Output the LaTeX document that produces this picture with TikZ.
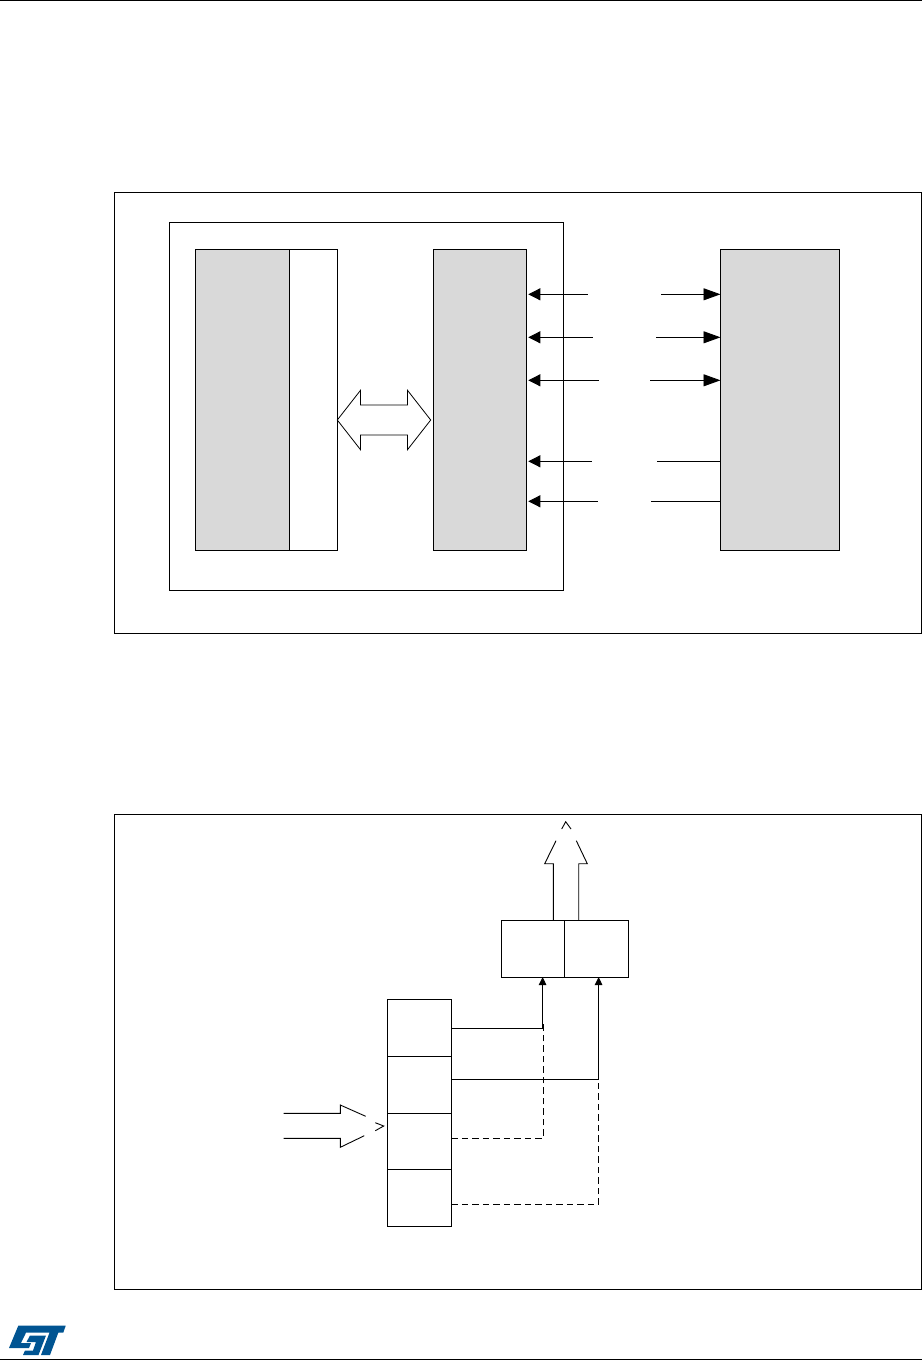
\documentclass[tikz,border=0pt]{standalone}
\usetikzlibrary{arrows.meta, positioning, shapes.arrows, calc}
\definecolor{blockgray}{RGB}{217,217,217}
\definecolor{stblue}{RGB}{0,84,146}

\begin{document}
\begin{tikzpicture}[
    x=1pt, y=-1pt,
    % --- Global styles ---
    every node/.style={outer sep=0pt, inner sep=0pt},
    % --- Boxes ---
    frame/.style={draw, line width=0.9pt, anchor=north west},
    block/.style={draw, line width=0.9pt, minimum height=301pt},
    gray block/.style={block, fill=blockgray},
    cell/.style={draw, line width=0.9pt, minimum width=63.6pt, minimum height=56.7pt},
    % --- Arrow styles ---
    flow/.style={-{Triangle[length=12pt,width=12pt]}, line width=0.9pt, shorten >=1.8pt},
    long flow/.style={-{Triangle[length=17pt,width=12pt]}, line width=0.9pt},
    plain flow/.style={line width=0.9pt},
    small flow/.style={-{Triangle[length=8pt,width=7.5pt]}, line width=0.9pt},
    dashed flow/.style={line width=0.9pt, dash pattern=on 6.5pt off 4pt},
    hollow/.style={line width=0.9pt, line join=miter},
  ]

  \useasboundingbox (0,0) rectangle (922,1361);

  %% ---- Page rules and logo ----

  \draw[line width=1pt] (0,0.5) -- (922,0.5);
  \draw[line width=1pt] (0,1359.7) -- (922,1359.7);

  \fill[stblue] (18.3,1325.7) -- (65.7,1325.7) -- (63.3,1332.7) -- (58.3,1332.7)
    -- (50,1355) -- (41,1355) -- (49.5,1332.7) -- (26,1332.7) -- (21,1343)
    -- (31,1343) -- (29,1348) -- (9,1348) -- cycle;
  \fill[stblue] (30,1335.5) -- (46,1335.5) -- (38.5,1355) -- (23,1355) -- (25,1350.5)
    -- (33,1350.5) -- (36,1342) -- (26.5,1342) -- cycle;

  %% ---- Upper figure ----

  \node[frame, minimum width=807pt, minimum height=441pt] (upper) at (114,192) {};
  \node[frame, minimum width=394.5pt, minimum height=368pt] (chip) at (169,222) {};

  % Blocks (left to right)
  \node[gray block, anchor=north west, minimum width=94pt] (core) at (195,249.3) {};
  \node[block, right=0pt of core, minimum width=48.5pt] (bus) {};
  \node[gray block, right=95.5pt of bus, minimum width=93.5pt] (ctrl) {};
  \node[gray block, right=194pt of ctrl, minimum width=119pt] (memory) {};

  % Bus arrow between bus and controller
  \node[double arrow, draw, line width=0.8pt, minimum height=93.4pt, minimum width=59pt,
    double arrow head extend=14.8pt, double arrow tip angle=104,
    inner xsep=0pt, inner ysep=14.6pt, anchor=center] (link) at (384,420) {};

  % Free ends of the signal lines
  \coordinate (sig a) at (587.7,294.3);
  \coordinate (sig b) at (592.7,337.3);
  \coordinate (sig c) at (598.7,380.3);
  \coordinate (sig d) at (591.7,461.3);
  \coordinate (sig e) at (597.7,501.3);
  \coordinate (mem a) at (661,294.3);
  \coordinate (mem b) at (656,337.3);
  \coordinate (mem c) at (650,380.3);
  \coordinate (mem d) at (657,461.3);
  \coordinate (mem e) at (651,501.3);

  \draw[flow] (sig a) -- (ctrl.east |- sig a);
  \draw[flow] (sig b) -- (ctrl.east |- sig b);
  \draw[flow] (sig c) -- (ctrl.east |- sig c);
  \draw[flow] (sig d) -- (ctrl.east |- sig d);
  \draw[flow] (sig e) -- (ctrl.east |- sig e);

  \draw[long flow] (mem a) -- (memory.west |- mem a);
  \draw[long flow] (mem b) -- (memory.west |- mem b);
  \draw[long flow] (mem c) -- (memory.west |- mem c);
  \draw[plain flow] (mem d) -- (memory.west |- mem d);
  \draw[plain flow] (mem e) -- (memory.west |- mem e);

  %% ---- Lower figure ----

  \node[frame, minimum width=807pt, minimum height=475pt] (lower) at (114,814) {};

  % Output register
  \node[cell, anchor=north west] (reglow) at (501,920.3) {};
  \node[cell, right=0pt of reglow] (reghigh) {};

  % Stacked slots
  \node[cell, anchor=north west] (slot a) at (387.7,999.7) {};
  \node[cell, below=0pt of slot a] (slot b) {};
  \node[cell, below=0pt of slot b] (slot c) {};
  \node[cell, below=0pt of slot c] (slot d) {};

  % Free ends of the dashed lines
  \coordinate (join low) at (543.2,1023);
  \coordinate (join high) at (598.7,1079.3);

  \draw[dashed flow] ([yshift=3pt]slot c.east) -| (join low);
  \draw[dashed flow] ([yshift=-6pt]slot d.east) -| (join high);
  \draw[small flow] (slot a.east) -| ([xshift=9.8pt]reglow.south);
  \draw[small flow] ([yshift=5.4pt]slot b.east) -| ([xshift=2.2pt]reghigh.south);

  % Hollow arrow going up
  \draw[hollow] (553.3,920.3) -- (553.3,863.7) -- (544.7,863.7) -- (556,840.7);
  \draw[hollow] (578.7,920.3) -- (578.7,863.7) -- (587.3,863.7) -- (576.3,840.7);
  \draw[hollow] (561.7,829) -- (565.7,821.7) -- (571,829);

  % Hollow arrow coming in
  \draw[hollow] (283.7,1113.3) -- (340.3,1113.3) -- (340.3,1105) -- (365.7,1116.3);
  \draw[hollow] (283.7,1138.3) -- (340.3,1138.3) -- (340.3,1147.3) -- (364.3,1135.7);
  \draw[hollow] (375.3,1122.7) -- (383.7,1126) -- (375.3,1130.7);

\end{tikzpicture}
\end{document}
